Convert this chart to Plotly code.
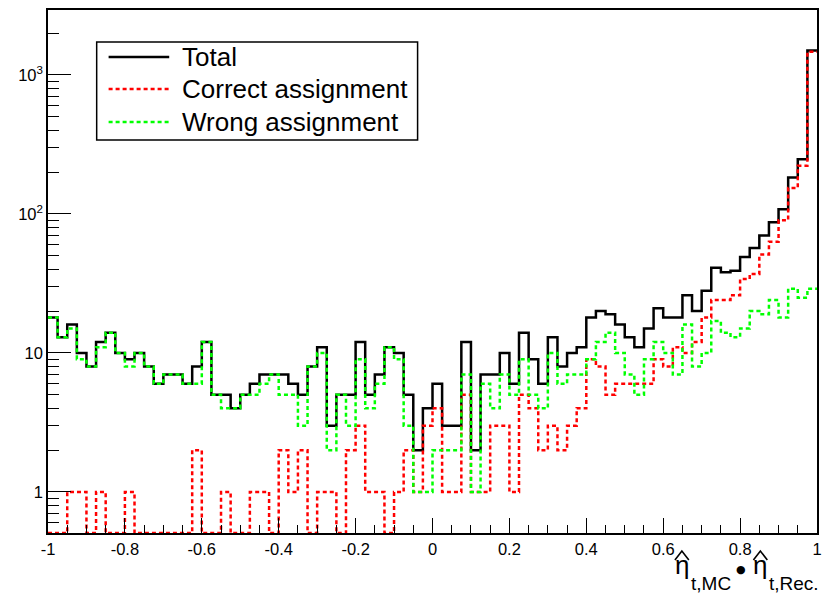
import numpy as np
import plotly.graph_objects as go

# 80 bins of cos(angle) between MC and reconstructed top directions
bin_edges = np.linspace(-1.0, 1.0, 81)

total = [18, 13, 16, 10, 8, 12, 14, 10, 9, 10,
         8, 6, 7, 7, 6, 8, 12, 5, 5, 4,
         5, 6, 7, 7, 7, 6, 5, 8, 11, 3,
         5, 5, 12, 5, 7, 11, 10, 5, 2, 4,
         6, 3, 3, 12, 2, 7, 7, 10, 6, 14,
         9, 6, 13, 8, 10, 11, 18, 20, 19, 16,
         13, 11, 15, 21, 18, 18, 26, 20, 28, 41,
         38, 39, 49, 57, 70, 87, 108, 183, 247, 1496]

correct = [0, 0, 1, 1, 0, 1, 0, 0, 1, 0,
           0, 0, 0, 0, 0, 2, 0, 0, 1, 0,
           0, 1, 1, 0, 2, 1, 2, 0, 1, 1,
           0, 2, 3, 1, 1, 0, 1, 2, 1, 3,
           4, 1, 1, 5, 1, 1, 3, 3, 1, 5,
           4, 2, 3, 2, 3, 4, 9, 8, 5, 6,
           6, 6, 6, 9, 8, 11, 10, 12, 18, 24,
           24, 26, 34, 37, 51, 63, 90, 154, 222, 1467]

wrong = [18, 13, 15, 9, 8, 11, 14, 10, 8, 10,
         8, 6, 7, 7, 6, 6, 12, 5, 4, 4,
         5, 5, 6, 7, 5, 5, 3, 8, 10, 2,
         5, 3, 9, 4, 6, 11, 9, 3, 1, 1,
         2, 2, 2, 7, 1, 6, 4, 7, 5, 9,
         5, 4, 10, 6, 7, 7, 9, 12, 14, 10,
         7, 5, 9, 12, 10, 7, 16, 8, 10, 17,
         14, 13, 15, 20, 19, 24, 18, 29, 25, 29]

legend_labels = ["Total", "Correct assignment", "Wrong assignment"]
x_tick_vals = [-1, -0.8, -0.6, -0.4, -0.2, 0, 0.2, 0.4, 0.6, 0.8, 1]
x_tick_text = ["-1", "-0.8", "-0.6", "-0.4", "-0.2", "0", "0.2", "0.4", "0.6", "0.8", "1"]
y_tick_vals = [1, 10, 100, 1000]
y_tick_text = ["1", "10", "10<sup>2</sup>", "10<sup>3</sup>"]

Y_MIN_LOG = -0.295
Y_MAX_LOG = 3.467
FLOOR = 10 ** Y_MIN_LOG

FONT = "Liberation Sans, Arial, Helvetica, sans-serif"

# figure geometry (pixels)
W, H = 827, 600
L, R, T, B = 48, 5, 10, 67
PW, PH = W - L - R, H - T - B


def px(x):
    return (x - L) / PW


def py(y):
    return 1 - (y - T) / PH


def step(values):
    v = np.maximum(np.asarray(values, dtype=float), FLOOR)
    return list(bin_edges), list(v) + [v[-1]]


fig = go.Figure()
styles = [
    (total, dict(color="black", width=2.5)),
    (correct, dict(color="#ff0000", width=2.5, dash="4px,3px")),
    (wrong, dict(color="#00ff00", width=2.5, dash="4px,3px")),
]
for (vals, line), name in zip(styles, legend_labels):
    xs, ys = step(vals)
    fig.add_trace(go.Scatter(x=xs, y=ys, mode="lines", name=name,
                             line=dict(shape="hv", **line),
                             showlegend=False, hoverinfo="skip"))

y_minor = ([0.6, 0.7, 0.8, 0.9] + [m * 10 ** d for d in range(0, 3) for m in range(2, 10)]
           + [2000])

fig.update_layout(
    width=W, height=H,
    margin=dict(l=L, r=R, t=T, b=B),
    paper_bgcolor="white", plot_bgcolor="white",
    font=dict(family=FONT, color="black", size=16.5),
    xaxis=dict(range=[-1, 1], showgrid=False, zeroline=False,
               showline=True, linecolor="black", linewidth=1.5, mirror=True,
               ticks="inside", ticklen=15, tickwidth=1, tickcolor="black",
               tickmode="array", tickvals=x_tick_vals, ticktext=x_tick_text,
               tickfont=dict(size=16.5, family=FONT),
               minor=dict(ticks="inside", ticklen=8, tickwidth=1, tickcolor="black",
                          dtick=0.05, tick0=-1, showgrid=False)),
    yaxis=dict(type="log", range=[Y_MIN_LOG, Y_MAX_LOG], showgrid=False, zeroline=False,
               showline=True, linecolor="black", linewidth=1.5, mirror=True,
               ticks="inside", ticklen=23, tickwidth=1, tickcolor="black",
               tickmode="array", tickvals=y_tick_vals, ticktext=y_tick_text,
               tickfont=dict(size=16.5, family=FONT),
               minor=dict(ticks="inside", ticklen=11, tickwidth=1, tickcolor="black",
                          tickmode="array", tickvals=y_minor, showgrid=False)),
)

# legend box
fig.add_shape(type="rect", xref="paper", yref="paper",
              x0=px(97), x1=px(420), y0=py(140), y1=py(42),
              line=dict(color="black", width=1.5), fillcolor="white", layer="above")
legend_rows = [57, 89, 122]
for (vals, line), name, yrow in zip(styles, legend_labels, legend_rows):
    fig.add_shape(type="line", xref="paper", yref="paper",
                  x0=px(109), x1=px(170), y0=py(yrow), y1=py(yrow),
                  line=line, layer="above")
    fig.add_annotation(xref="paper", yref="paper", x=px(181), y=py(yrow),
                       xanchor="left", yanchor="middle", showarrow=False,
                       text=name, font=dict(size=26, family=FONT, color="black"))

# x-axis title: eta-hat(t,MC) . eta-hat(t,Rec.)
title_parts = [
    ("η", 686, 565, 26, "center", FONT),
    ("t,MC", 693, 583, 19, "left", FONT),
    ("\u25cf", 746, 569, 11, "center", "DejaVu Sans"),
    ("η", 765, 565, 26, "center", FONT),
    ("t,Rec.", 772, 583, 19, "left", FONT),
]
for txt, x, y, size, anchor, fam in title_parts:
    fig.add_annotation(xref="paper", yref="paper", x=px(x), y=py(y),
                       xanchor=anchor, yanchor="middle", showarrow=False,
                       text=txt, font=dict(size=size, family=fam, color="black"))
for xc in (686, 765):
    fig.add_shape(type="path", xref="paper", yref="paper",
                  path=f"M {px(xc - 7)},{py(560)} L {px(xc)},{py(551)} L {px(xc + 7)},{py(560)}",
                  line=dict(color="black", width=1.6))

fig.write_html("out.html")
